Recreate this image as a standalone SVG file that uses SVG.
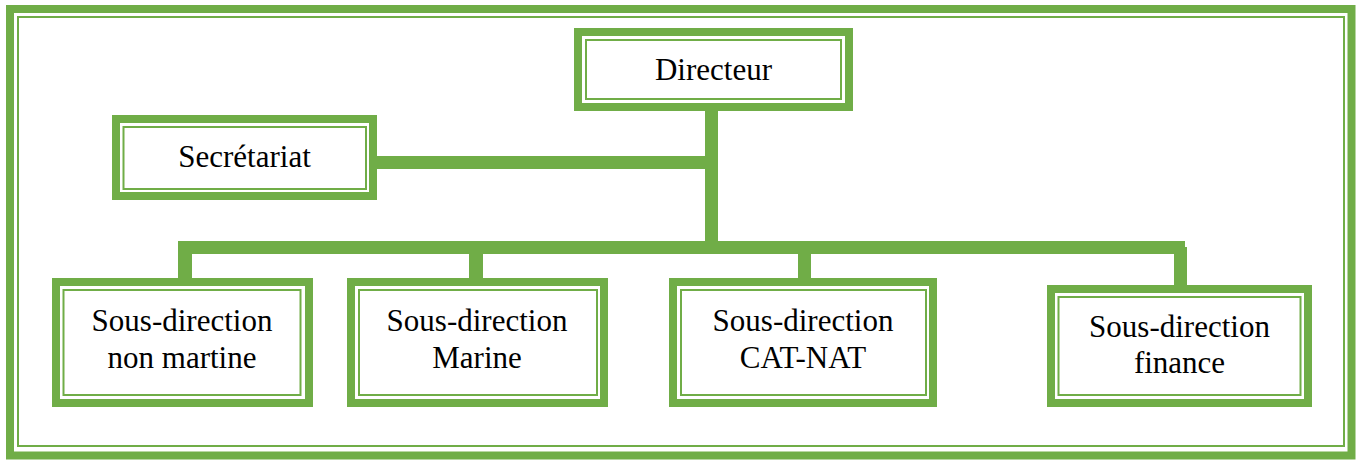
<svg xmlns="http://www.w3.org/2000/svg" width="1358" height="460" viewBox="0 0 1358 460">
  <style>
    .thick { fill: none; stroke: #70AD47; stroke-width: 8; }
    .thin { fill: none; stroke: #70AD47; stroke-width: 2; }
    .bar { fill: #70AD47; }
    text { font-family: "Liberation Serif", "Times New Roman", serif; font-size: 31px; fill: #000; text-anchor: middle; }
  </style>
  <rect x="0" y="0" width="1358" height="460" fill="#fff"/>

  <!-- page frame -->
  <g id="frame">
    <rect class="thick" x="10" y="9" width="1341.5" height="446.5"/>
    <rect class="thin" x="18" y="17" width="1326" height="429"/>
  </g>

  <!-- connectors -->
  <g id="connectors">
    <!-- trunk from Directeur -->
    <rect class="bar" x="705" y="110" width="13" height="144"/>
    <!-- branch to Secrétariat -->
    <rect class="bar" x="376" y="156" width="342" height="13"/>
    <!-- horizontal distribution bar -->
    <rect class="bar" x="178" y="241" width="1007" height="13"/>
    <!-- drops to sub-directions -->
    <rect class="bar" x="178" y="241" width="14" height="38"/>
    <rect class="bar" x="469" y="253" width="14" height="26"/>
    <rect class="bar" x="798" y="253" width="13" height="26"/>
    <rect class="bar" x="1174" y="247" width="13" height="39"/>
  </g>

  <g id="directeur">
    <rect class="thick" x="578" y="32" width="271" height="75"/>
    <rect class="thin" x="586" y="40" width="255" height="59"/>
    <text x="713.5" y="80">Directeur</text>
  </g>

  <g id="secretariat">
    <rect class="thick" x="116" y="119" width="257" height="77"/>
    <rect class="thin" x="123.5" y="127" width="242.5" height="62"/>
    <text x="244.5" y="167">Secrétariat</text>
  </g>

  <g id="sd-non-martine">
    <rect class="thick" x="56" y="282" width="253" height="121"/>
    <rect class="thin" x="63.5" y="290" width="237" height="105"/>
    <text x="182" y="331">Sous-direction</text>
    <text x="182" y="368">non martine</text>
  </g>

  <g id="sd-marine">
    <rect class="thick" x="351" y="282" width="253" height="121"/>
    <rect class="thin" x="359" y="290" width="238" height="105"/>
    <text x="477" y="331">Sous-direction</text>
    <text x="477" y="368">Marine</text>
  </g>

  <g id="sd-cat-nat">
    <rect class="thick" x="673" y="282" width="260" height="121"/>
    <rect class="thin" x="681" y="290" width="245" height="105"/>
    <text x="803" y="331">Sous-direction</text>
    <text x="803" y="368">CAT-NAT</text>
  </g>

  <g id="sd-finance">
    <rect class="thick" x="1051" y="289" width="257" height="114"/>
    <rect class="thin" x="1058.5" y="297" width="242" height="98"/>
    <text x="1179.5" y="337">Sous-direction</text>
    <text x="1179.5" y="373">finance</text>
  </g>
</svg>
